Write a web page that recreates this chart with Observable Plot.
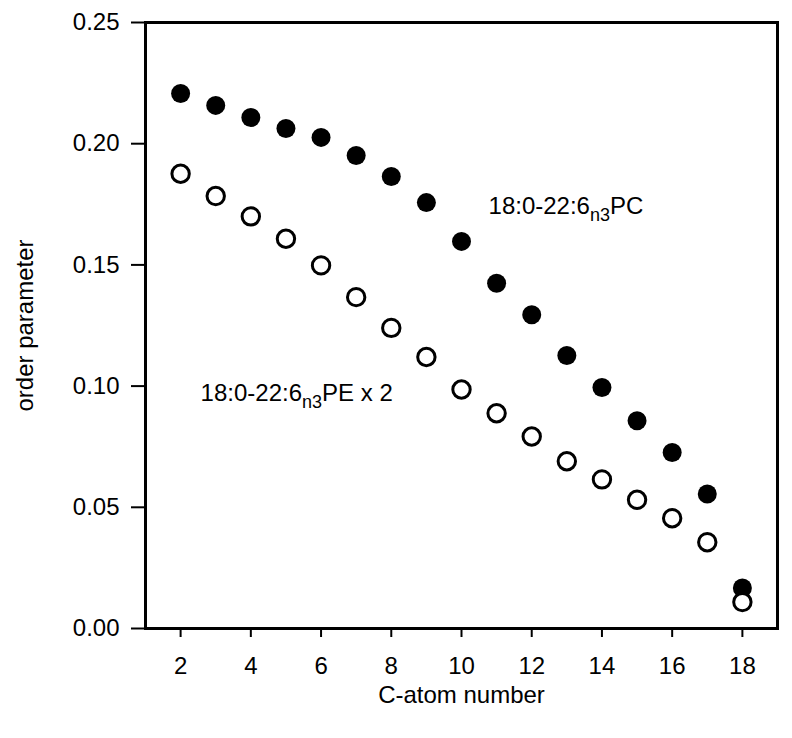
<!DOCTYPE html>
<html>
<head>
<meta charset="utf-8">
<script src="https://cdn.jsdelivr.net/npm/d3@7"></script>
<script src="https://cdn.jsdelivr.net/npm/@observablehq/plot@0.6"></script>
<style>
  html, body { margin: 0; padding: 0; background: white; }
</style>
</head>
<body>
<div id="chart"></div>
<script>
const carbon = [2, 3, 4, 5, 6, 7, 8, 9, 10, 11, 12, 13, 14, 15, 16, 17, 18];
const pcOrder = [0.2207, 0.2158, 0.2108, 0.2063, 0.2026, 0.1951, 0.1865, 0.1757, 0.1597, 0.1424, 0.1294, 0.1126, 0.0994, 0.0857, 0.0726, 0.0555, 0.0167];
const peOrder = [0.1876, 0.1784, 0.1700, 0.1608, 0.1498, 0.1367, 0.1240, 0.1120, 0.0986, 0.0888, 0.0792, 0.0690, 0.0615, 0.0531, 0.0455, 0.0356, 0.0109];
const xTicks = [2, 4, 6, 8, 10, 12, 14, 16, 18];
const yTicks = [0.00, 0.05, 0.10, 0.15, 0.20, 0.25];
const labelTexts = ["18:0-22:6|n3|PC", "18:0-22:6|n3|PE x 2"];
const labelX = [10.77, 2.57];
const labelY = [0.1743, 0.0971];

const rows = carbon.map((c, i) => ({c, pc: pcOrder[i], pe: peOrder[i]}));
const labels = labelTexts.map((t, i) => ({t, x: labelX[i], y: labelY[i]}));

const plot = Plot.plot({
  width: 792,
  height: 738,
  marginLeft: 145,
  marginRight: 15,
  marginTop: 22,
  marginBottom: 110,
  style: {fontFamily: "'Liberation Sans', Arial, sans-serif", fontSize: "24px", background: "white", color: "black"},
  x: {domain: [1, 19]},
  y: {domain: [0, 0.25]},
  marks: [
    Plot.axisY({ticks: yTicks, tickFormat: d3.format(".2f"), tickSize: 14, tickPadding: 12, strokeWidth: 2, fontSize: 24,
      label: "order parameter", labelAnchor: "center", labelArrow: "none", labelOffset: 130}),
    Plot.axisX({ticks: xTicks, tickFormat: d3.format("d"), tickSize: 9, tickPadding: 19, strokeWidth: 2, fontSize: 24,
      label: "C-atom number", labelAnchor: "center", labelArrow: "none", labelOffset: 74}),
    Plot.frame({stroke: "black", strokeWidth: 3}),
    Plot.dot(rows, {x: "c", y: "pc", r: 9.5, fill: "black"}),
    Plot.dot(rows, {x: "c", y: "pe", r: 8.7, fill: "white", stroke: "black", strokeWidth: 3}),
    Plot.text(labels, {x: "x", y: "y", text: "t", textAnchor: "start", lineAnchor: "middle", fill: "black", fontSize: 24})
  ]
});

// render subscripts as tspans
d3.select(plot).selectAll("text").each(function() {
  const el = d3.select(this);
  const s = el.text();
  if (s.includes("|")) {
    const [a, sub, b] = s.split("|");
    el.text(null);
    el.append("tspan").text(a);
    el.append("tspan").attr("font-size", "18px").attr("dy", "7").text(sub);
    el.append("tspan").attr("dy", "-7").text(b);
  }
});

document.getElementById("chart").appendChild(plot);
</script>
</body>
</html>
